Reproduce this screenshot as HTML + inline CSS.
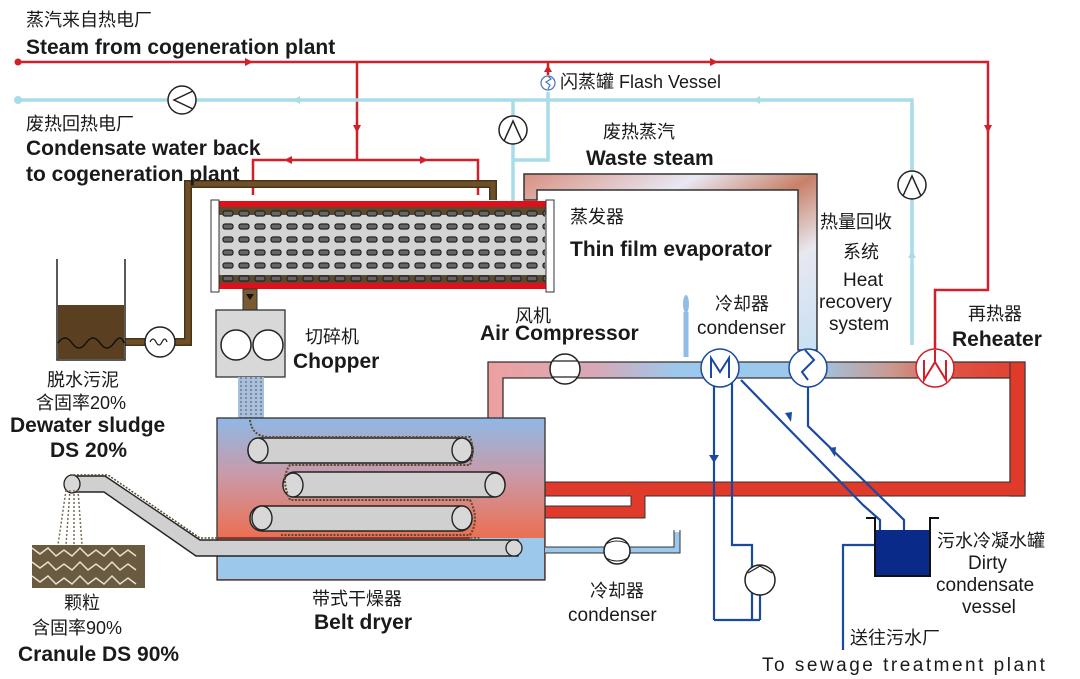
<!DOCTYPE html>
<html><head><meta charset="utf-8"><style>
html,body{margin:0;padding:0;background:#fff;}
svg{display:block;}
text{font-family:"Liberation Sans","Noto Sans CJK SC",sans-serif;fill:#1a1a1a;}
.en{font-size:21px;font-weight:bold;}
.cn{font-size:18px;}
.thin{font-size:19px;}
</style></head><body>
<svg width="1080" height="679" viewBox="0 0 1080 679" xmlns="http://www.w3.org/2000/svg">
<defs>
<linearGradient id="dry" x1="0" y1="0" x2="0" y2="1">
<stop offset="0" stop-color="#8fb8e6"/><stop offset="0.35" stop-color="#c99aa8"/><stop offset="0.7" stop-color="#e8745a"/><stop offset="1" stop-color="#e65a3a"/></linearGradient>
<linearGradient id="air" x1="0" y1="0" x2="1" y2="0">
<stop offset="0" stop-color="#eea0a0"/><stop offset="0.2" stop-color="#d8a8b8"/><stop offset="0.35" stop-color="#9cc8ec"/><stop offset="0.6" stop-color="#9cc8ec"/><stop offset="0.75" stop-color="#c99a90"/><stop offset="0.88" stop-color="#e05040"/><stop offset="1" stop-color="#e04030"/></linearGradient>
<linearGradient id="ws" x1="0" y1="0" x2="1" y2="1">
<stop offset="0" stop-color="#d89080"/><stop offset="0.3" stop-color="#e8e8f4"/><stop offset="0.5" stop-color="#c88068"/><stop offset="0.7" stop-color="#e8e8f0"/><stop offset="1" stop-color="#c8e0f4"/></linearGradient>
<pattern id="tubes" x="220" y="207" width="16" height="13" patternUnits="userSpaceOnUse">
<rect x="3" y="4" width="10" height="5" rx="2" fill="#666" stroke="#222" stroke-width="1.2"/></pattern>
</defs>

<g stroke="#d0202a" stroke-width="2.5" fill="none">
<path d="M18 62 H988 V290 H935 V350"/>
<path d="M357 62 V160 M253 195 V160 H478 V195"/>
<path d="M548 62 V75"/>
</g>
<circle cx="18" cy="62" r="3.5" fill="#d0202a"/>
<g fill="#d0202a"><path d="M245 58 l8 4 l-8 4z"/><path d="M710 58 l8 4 l-8 4z"/><path d="M353 125 l4 8 l4 -8z"/><path d="M984 125 l4 8 l4 -8z"/><path d="M292 156 l-8 4 l8 4z"/><path d="M420 156 l8 4 l-8 4z"/><path d="M544 72 l4 -7 l4 7z"/></g>

<g stroke="#a8dce8" stroke-width="3.5" fill="none">
<path d="M18 100 H912 V345"/>
<path d="M513 100 V205"/>
<path d="M548 92 V160 H513"/>
</g>
<circle cx="18" cy="100" r="4" fill="#a8dce8"/>
<g fill="#a8dce8"><path d="M300 96 l-7 4 l7 4z"/><path d="M760 96 l-7 4 l7 4z"/><path d="M908 258 l4 -8 l4 8z"/></g>
<g fill="#fff" stroke="#222" stroke-width="1.5">
<circle cx="182" cy="100" r="14"/><circle cx="513" cy="130" r="14"/><circle cx="912" cy="185" r="14"/>
</g>
<g stroke="#222" stroke-width="1.5" fill="none">
<path d="M193 91 L174 100 L193 109"/><path d="M504 141 L513 121 L522 141"/><path d="M903 196 L912 176 L921 196"/>
</g>
<circle cx="548" cy="83" r="7" fill="#fff" stroke="#4a70c0" stroke-width="1.2"/>
<path d="M548 76 l3 3 l-5 3 l4 3 l-2 4" stroke="#4a70c0" fill="none" stroke-width="1.2"/>

<path d="M524 200 V174 H817 V350 H798 V190 H537 V200 Z" fill="url(#ws)" stroke="#333" stroke-width="1.5"/>

<path d="M125 342 H188 V184 H493 V200" stroke="#4a3418" stroke-width="8" fill="none"/>
<path d="M125 342 H188 V184 H493 V200" stroke="#6e5028" stroke-width="5" fill="none"/>
<path d="M57 259 V360 H125 V259" stroke="#222" stroke-width="1.5" fill="none"/>
<rect x="58" y="305" width="66" height="54" fill="#5a4020"/>
<path d="M58 343 q7 -10 14 0 t14 0 t14 0 t14 0 t10 0" stroke="#111" stroke-width="1.5" fill="none"/>
<circle cx="160" cy="342" r="15" fill="#fff" stroke="#222" stroke-width="1.5"/>
<path d="M150 342 q3 -6 6 0 t6 0 t5 0" stroke="#222" fill="none" stroke-width="1.3"/>

<rect x="219" y="201" width="327" height="6" fill="#e0101a"/>
<rect x="219" y="283" width="327" height="6" fill="#e0101a"/>
<rect x="219" y="207" width="327" height="76" fill="#d4d4d4"/>
<rect x="219" y="207" width="327" height="8" fill="#5a4a30"/>
<rect x="219" y="275" width="327" height="8" fill="#5a4a30"/>
<rect x="220" y="207" width="325" height="76" fill="url(#tubes)"/>
<rect x="211" y="200" width="8" height="92" fill="#fff" stroke="#333"/>
<rect x="546" y="200" width="8" height="92" fill="#fff" stroke="#333"/>

<rect x="243" y="289" width="14" height="22" fill="#7a5a30" stroke="#333"/>
<path d="M246 294 h8 l-4 6z" fill="#111"/>
<rect x="216" y="310" width="69" height="67" fill="#d8d8d8" stroke="#333" stroke-width="1.3"/>
<circle cx="236" cy="345" r="15" fill="#fff" stroke="#222" stroke-width="1.5"/>
<circle cx="268" cy="345" r="15" fill="#fff" stroke="#222" stroke-width="1.5"/>
<rect x="238" y="377" width="26" height="42" fill="#a8c0dc"/>
<path d="M241 377 V419 M246 377 V419 M251 377 V419 M256 377 V419 M261 377 V419" stroke="#556" stroke-dasharray="2 2"/>

<path d="M488 420 V362 H1025 V496 H1010 V378 H503 V420 Z" fill="url(#air)" stroke="#333" stroke-width="1.3"/>
<rect x="1010" y="362" width="15" height="134" fill="#e03a2a" stroke="#333" stroke-width="1"/>
<rect x="545" y="482" width="480" height="14" fill="#e03a2a" stroke="#333" stroke-width="1"/>
<rect x="1011" y="470" width="13" height="25" fill="#e03a2a"/>
<rect x="545" y="506" width="100" height="12" fill="#e03a2a" stroke="#333" stroke-width="1"/>
<rect x="631" y="495" width="14" height="22" fill="#e03a2a"/>
<path d="M631 496 V506 M645 496 V518" stroke="#333" stroke-width="1"/>

<path d="M686 357 V312" stroke="#8fbde6" stroke-width="5"/>
<ellipse cx="686" cy="304" rx="3" ry="9" fill="#8fbde6"/>

<circle cx="565" cy="369" r="15" fill="#fff" stroke="#222" stroke-width="1.5"/>
<path d="M553 361 H577 M553 377 H577" stroke="#222" stroke-width="1.3"/>

<g stroke="#1a4aa0" stroke-width="2.2" fill="none">
<path d="M714 375 V620 M732 375 V545 H752 V620 M714 620 H760 M760 595 V620"/>
<path d="M741 380 L863 505 L880 520 V533"/>
<path d="M808 385 V426 L896 512 L904 520 V533"/>
<path d="M875 545 H843 V650"/>
</g>
<g fill="#1a4aa0"><path d="M709 455 l5 8 l5 -8z"/><path d="M785 413 l6 9 l1 -10z"/><path d="M829 448 l6 9 l1 -10z"/></g>
<circle cx="760" cy="580" r="15" fill="#fff" stroke="#222" stroke-width="1.5"/>
<path d="M748 573 L760 566 L772 573" stroke="#222" fill="none" stroke-width="1.3"/>

<path d="M866 518 H875 V576 H930 V518 H939" stroke="#111" stroke-width="2" fill="none"/>
<rect x="876" y="530" width="53" height="45" fill="#0a2a8a"/>

<circle cx="720" cy="368" r="19" fill="#fff" stroke="#1a4aa0" stroke-width="1.5"/>
<path d="M711 378 V358 L720 372 L729 358 V378" stroke="#1a4aa0" stroke-width="2" fill="none"/>
<circle cx="808" cy="368" r="19" fill="#fff" stroke="#1a4aa0" stroke-width="1.5"/>
<path d="M805 350 L814 360 L802 372 L808 380" stroke="#1a4aa0" stroke-width="2" fill="none"/>
<circle cx="935" cy="368" r="19" fill="#fff" stroke="#d0202a" stroke-width="1.5"/>
<path d="M924 360 V380 L935 362 L946 380 V360" stroke="#d0202a" stroke-width="2" fill="none"/>
<path d="M935 350 V362" stroke="#d0202a" stroke-width="2"/>

<rect x="217" y="418" width="328" height="162" fill="url(#dry)" stroke="#333" stroke-width="1.3"/>
<rect x="218" y="538" width="326" height="41" fill="#9cc8ec"/>
<path d="M218 538 H470" stroke="#c02020" stroke-width="2"/>
<g fill="#d0d0d0" stroke="#222" stroke-width="1.4">
<rect x="248" y="438" width="225" height="25" rx="12"/>
<rect x="283" y="472" width="222" height="25" rx="12"/>
<rect x="250" y="506" width="222" height="25" rx="12"/>
</g>
<g fill="#d8d8d8" stroke="#222" stroke-width="1.4">
<ellipse cx="258" cy="450" rx="10" ry="12"/><ellipse cx="462" cy="450" rx="10" ry="12"/>
<ellipse cx="293" cy="485" rx="10" ry="12"/><ellipse cx="495" cy="485" rx="10" ry="12"/>
<ellipse cx="262" cy="518" rx="10" ry="12"/><ellipse cx="462" cy="518" rx="10" ry="12"/>
</g>
<path d="M250 420 Q252 436 268 437 H470 Q475 450 470 465 H290 Q280 478 290 500 H470 Q480 520 470 535 H280" stroke="#5a4a30" stroke-width="2" stroke-dasharray="2 1.5" fill="none"/>
<path d="M65 485 L74 476 H105 L200 540 H518 V556 H196 L104 492 H70 Z" fill="#d0d0d0" stroke="#222" stroke-width="1.4"/>
<ellipse cx="72" cy="484" rx="8" ry="9" fill="#d8d8d8" stroke="#222" stroke-width="1.3"/>
<ellipse cx="514" cy="548" rx="8" ry="8" fill="#d8d8d8" stroke="#222" stroke-width="1.3"/>
<path d="M70 475 H108 L200 538 H480" stroke="#5a4a30" stroke-width="1.5" stroke-dasharray="2 1.5" fill="none"/>
<path d="M66 490 L58 545 M70 490 L66 545 M74 490 L74 545 M78 490 L82 545" stroke="#7a6a50" stroke-width="1.5" stroke-dasharray="2 2"/>
<rect x="32" y="545" width="113" height="43" fill="#6a5a40"/>
<path d="M32 548 l8 6 l8-6 l8 8 l8-6 l8 6 l8-8 l8 8 l8-6 l8 6 l8-8 l8 8 l8-6 l8 6 M32 562 l8 6 l8-6 l8 8 l8-6 l8 6 l8-8 l8 8 l8-6 l8 6 l8-8 l8 8 l8-6 l8 6 M32 576 l8 6 l8-6 l8 8 l8-6 l8 6 l8-8 l8 8 l8-6 l8 6 l8-8 l8 8 l8-6 l8 6" stroke="#e8e0d0" stroke-width="1.5" fill="none"/>

<path d="M545 550 H677 V532" stroke="#9cc8ec" stroke-width="6" fill="none"/>
<path d="M545 547 H674 V530 M545 553 H680 V530" stroke="#333" stroke-width="1" fill="none"/>
<circle cx="617" cy="551" r="13" fill="#fff" stroke="#222" stroke-width="1.5"/>
<path d="M606 544 Q617 538 628 544 M606 558 Q617 564 628 558" stroke="#222" fill="none"/>

<text x="26" y="26" class="cn">蒸汽来自热电厂</text>
<text x="26" y="54" class="en">Steam from cogeneration plant</text>
<text x="560" y="88" class="cn">闪蒸罐 Flash Vessel</text>
<text x="26" y="130" class="cn">废热回热电厂</text>
<text x="26" y="155" class="en">Condensate water back</text>
<text x="26" y="181" class="en">to cogeneration plant</text>
<text x="603" y="138" class="cn">废热蒸汽</text>
<text x="586" y="165" class="en">Waste steam</text>
<text x="570" y="223" class="cn">蒸发器</text>
<text x="570" y="256" class="en">Thin film evaporator</text>
<text x="820" y="228" class="cn">热量回收</text>
<text x="843" y="258" class="cn">系统</text>
<text x="843" y="286" class="thin">Heat</text>
<text x="819" y="308" class="thin">recovery</text>
<text x="829" y="330" class="thin">system</text>
<text x="968" y="320" class="cn">再热器</text>
<text x="952" y="346" class="en">Reheater</text>
<text x="715" y="310" class="cn">冷却器</text>
<text x="697" y="334" class="thin">condenser</text>
<text x="515" y="322" class="cn">风机</text>
<text x="480" y="340" class="en">Air Compressor</text>
<text x="305" y="343" class="cn">切碎机</text>
<text x="293" y="368" class="en">Chopper</text>
<text x="47" y="386" class="cn">脱水污泥</text>
<text x="36" y="409" class="cn">含固率20%</text>
<text x="10" y="432" class="en">Dewater sludge</text>
<text x="50" y="457" class="en">DS 20%</text>
<text x="64" y="609" class="cn">颗粒</text>
<text x="32" y="634" class="cn">含固率90%</text>
<text x="18" y="661" class="en">Cranule DS 90%</text>
<text x="312" y="605" class="cn">带式干燥器</text>
<text x="314" y="629" class="en">Belt dryer</text>
<text x="590" y="597" class="cn">冷却器</text>
<text x="568" y="621" class="thin">condenser</text>
<text x="937" y="547" class="cn">污水冷凝水罐</text>
<text x="968" y="569" class="thin">Dirty</text>
<text x="936" y="591" class="thin">condensate</text>
<text x="962" y="613" class="thin">vessel</text>
<text x="850" y="644" class="cn">送往污水厂</text>
<text x="762" y="671" class="thin" letter-spacing="2.5">To sewage treatment plant</text>
</svg>
</body></html>
